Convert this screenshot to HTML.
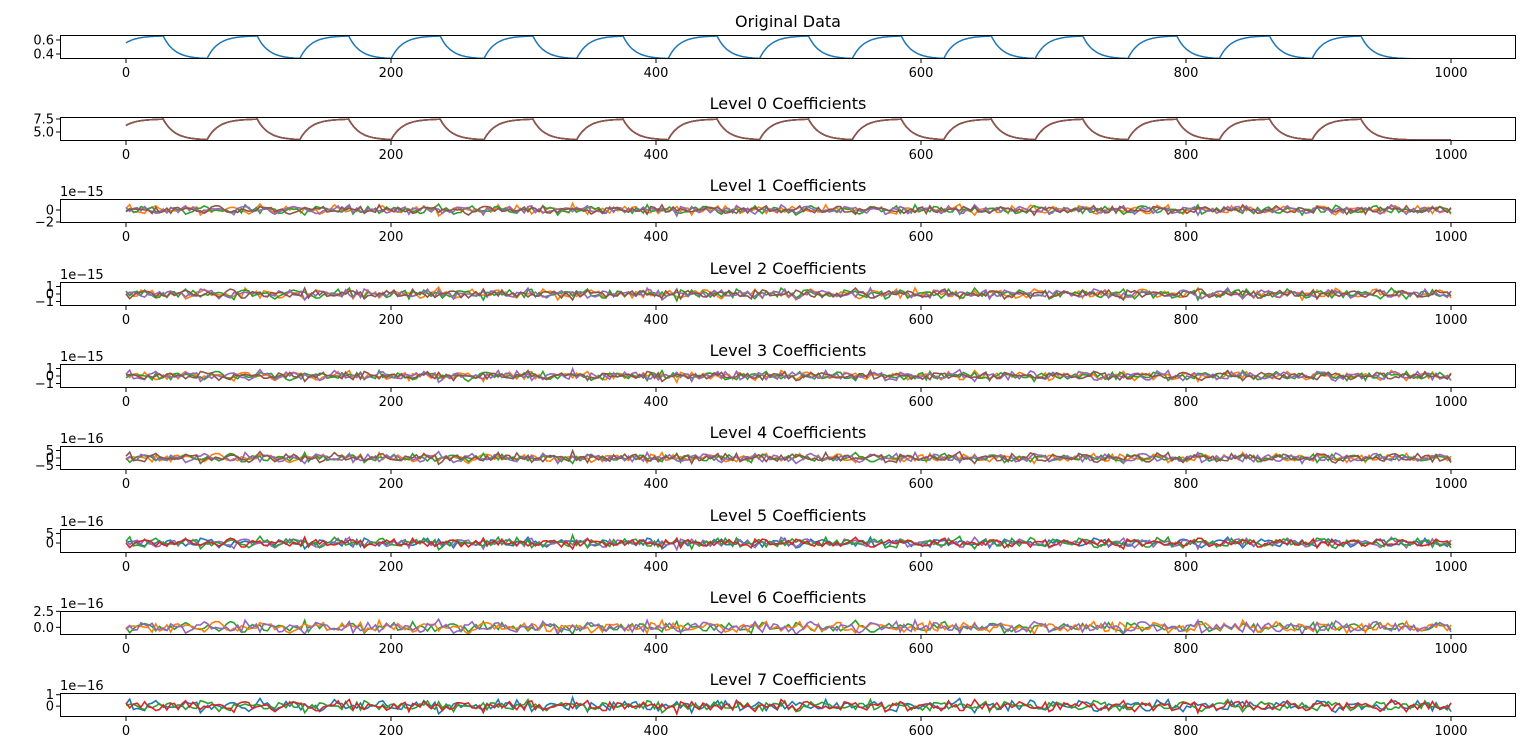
<!DOCTYPE html>
<html><head><meta charset="utf-8"><style>
html,body{margin:0;padding:0;background:#fff;width:1536px;height:754px;overflow:hidden}
svg text{font-family:"DejaVu Sans","Liberation Sans",sans-serif;fill:#000}
</style></head><body>
<svg id="fig" width="1536" height="754" viewBox="0 0 1536 754" xmlns="http://www.w3.org/2000/svg"></svg>
<script>
// ---- data ----
const xTicks = [0, 200, 400, 600, 800, 1000];
const riseStarts = [-10, 61, 131, 200, 270, 340, 409, 478, 548, 617, 686, 756, 825, 895];
const fallStarts = [28, 99, 168, 237, 307, 375, 446, 515, 585, 653, 722, 793, 863, 932];
const origLevels = [0.33, 0.66];
const lvl0Levels = [3.46, 7.5];
const noiseA = [2,-3,5,-1,4,-6,1,3,-2,7,-4,0,2,-5,6,-1,-3,4,-2,1,5,-7,2,0,-3,6,-2,3,-4,1,8,-5,2,-1,3,-3,0,4,-6,2,-2,5,-1,-4,3,1,-2,6,-3,0,2,-5,4,-1,3,-2,7,-6,1,2,-3,4,-1,0,5,-4,2,-2,3,-1,6,-5,1,2,-3,4,0,-2,3,-1,5,-4,2,-3,1,4,-2,0,3,-5];
const noiseB = [-1,4,-2,3,-5,2,0,-3,6,-4,1,2,-6,3,-1,5,-2,-4,3,1,-3,7,-5,2,-1,4,-3,0,5,-6,2,3,-2,1,-4,6,-1,-3,2,4,-5,1,0,3,-2,-6,5,-1,2,-3,4,0,-4,6,-2,1,-5,3,2,-1,-3,5,-4,1,3,-2,0,-5,4,2,-1,-3,6,-2,1,-4,3,0,2,-6,4,-1,3,-2,5,-3,1,-1,2,-4];
const noiseC = [3,-1,-4,2,5,-3,1,-2,4,0,-5,3,2,-4,1,6,-3,-1,2,-5,4,1,-2,3,-6,2,0,4,-3,1,-2,5,-4,3,-1,0,2,-7,4,1,-3,5,-2,-1,6,-4,2,0,-3,3,1,-5,4,-2,2,-1,-4,6,-3,1,4,-2,-5,3,0,2,-3,5,-1,-4,2,3,-6,1,4,-2,0,-3,5,-1,2,-4,3,1,-2,6,-5,2,-1,3];
const noiseD = [-2,1,3,-4,2,-1,5,-3,0,4,-2,-5,3,1,-1,2,-4,6,-2,0,3,-3,1,-6,4,2,-1,-2,5,-3,1,0,-4,3,2,-5,6,-1,-2,3,0,-4,2,5,-3,1,-1,-2,4,-5,3,1,0,-3,5,-2,-1,4,-4,2,1,-6,3,0,-2,5,-3,2,-1,4,-5,1,3,-2,0,6,-4,1,-3,2,4,-1,-5,3,-2,1,5,-3,0,2];
const noiseE = [1,-2,0,3,-3,5,-1,-4,2,1,-2,4,-6,3,0,-1,5,-3,2,-2,1,4,-5,0,3,-1,-3,6,-2,1,2,-4,3,-1,0,5,-6,2,1,-3,4,-1,-2,3,0,-5,4,2,-1,-3,6,-2,1,0,-4,3,2,-1,-5,4,0,-2,3,1,-3,5,-4,1,2,-1,-2,4,-3,0,6,-5,1,2,-2,3,-4,1,0,-1,4,-3,2,-2,1,3];
const noiseF = [0,2,-3,1,4,-2,-1,5,-4,2,0,-3,6,-1,-2,3,-5,1,4,-2,0,-1,3,-4,5,-2,1,-3,2,0,-6,4,1,-2,3,-1,-4,5,0,-3,2,1,-5,3,-1,4,-2,0,-3,6,-4,1,2,-1,-2,5,-3,0,3,-5,2,1,-4,3,-2,0,4,-6,1,2,-1,-3,5,-2,0,3,-4,1,-1,2,-5,4,0,-2,3,-1,1,-3,4,-2];
const panelTitles = ["Original Data","Level 0 Coefficients","Level 1 Coefficients","Level 2 Coefficients","Level 3 Coefficients","Level 4 Coefficients","Level 5 Coefficients","Level 6 Coefficients","Level 7 Coefficients"];
const yRanges = [[0.329,0.671],[3.27,7.88],[-2.17,1.83],[-1.6,1.6],[-1.6,1.6],[-8.0,8.0],[-5.2,7.3],[-1.2,2.55],[-0.95,1.15]];
const yTickVals = [[0.4,0.6],[5.0,7.5],[-2,0],[-1,0,1],[-1,0,1],[-5,0,5],[0,5],[0.0,2.5],[0,1]];
const yTickLabels = [["0.4","0.6"],["5.0","7.5"],["\u22122","0"],["\u22121","0","1"],["\u22121","0","1"],["\u22125","0","5"],["0","5"],["0.0","2.5"],["0","1"]];
const offsetLabels = ["","","1e\u221215","1e\u221215","1e\u221215","1e\u221216","1e\u221216","1e\u221216","1e\u221216"];
const noiseAmp = [0,0,0.14,0.13,0.12,0.6,0.5,0.18,0.095];
const noiseSeries = [null,null,
  [["#ff7f0e",noiseA],["#2ca02c",noiseB],["#9467bd",noiseC],["#8c564b",noiseD]],
  [["#ff7f0e",noiseB],["#2ca02c",noiseC],["#9467bd",noiseE],["#8c564b",noiseF]],
  [["#ff7f0e",noiseC],["#2ca02c",noiseD],["#9467bd",noiseA],["#8c564b",noiseE]],
  [["#ff7f0e",noiseD],["#2ca02c",noiseF],["#9467bd",noiseB],["#8c564b",noiseA]],
  [["#1f77b4",noiseE],["#9467bd",noiseC],["#2ca02c",noiseA],["#d62728",noiseF]],
  [["#2ca02c",noiseF],["#ff7f0e",noiseD],["#9467bd",noiseB]],
  [["#1f77b4",noiseA],["#2ca02c",noiseE],["#d62728",noiseC]]];

// ---- layout ----
const svg = document.getElementById('fig');
const NS = 'http://www.w3.org/2000/svg';
const L = 60, R = 1516, H = 24;
const panelTops = [35,117,199,282,364,446,529,611,693];
const xs = v => 126 + (v - 0) * (1451 - 126) / 1000;
function mk(tag, attrs, parent){const e=document.createElementNS(NS,tag);for(const k in attrs)e.setAttribute(k,attrs[k]);(parent||svg).appendChild(e);return e;}
function shape(t, lv){
  let lastR=-1e9,lastF=-1e9;
  for(const r of riseStarts) if(r<=t) lastR=Math.max(lastR,r);
  for(const f of fallStarts) if(f<=t) lastF=Math.max(lastF,f);
  const lo=lv[0],hi=lv[1],tau=8.5;
  if(lastR>lastF) return hi-(hi-lo)*Math.exp(-(t-lastR)/tau);
  if(lastF>-1e8) return lo+(hi-lo)*Math.exp(-(t-lastF)/tau);
  return lo;
}
panelTitles.forEach((title,i)=>{
  const top=panelTops[i], bot=top+H;
  const g=mk('g',{});  
  const [y0,y1]=yRanges[i];
  const ys=v=>bot-(v-y0)/(y1-y0)*H;
  const clipId='c'+i;
  const cp=mk('clipPath',{id:clipId},g); mk('rect',{x:L,y:top,width:R-L,height:H},cp);
  const plot=mk('g',{'clip-path':'url(#'+clipId+')'},g);
  if(i<2){
    const lv = i===0?origLevels:lvl0Levels;
    const cols = i===0?['#1f77b4']:['#1f77b4','#ff7f0e','#2ca02c','#d62728','#9467bd','#8c564b'];
    cols.forEach((c,k)=>{
      let pts=[];
      for(let t=0;t<=1000;t+=1) pts.push(xs(t).toFixed(1)+','+ys(shape(t,lv)).toFixed(1));
      const p=mk('polyline',{points:pts.join(' '),fill:'none',stroke:c,'stroke-width':1.5},plot);
      
      
    });
  } else {
    noiseSeries[i].forEach(([c,arr],k)=>{
      const n=arr.length;
      let pts=[];
      const step=1000/(n-1);
      for(let j=0;j<n;j++){
        const t=j*step;
        pts.push(xs(t).toFixed(1)+','+ys(arr[j]*noiseAmp[i]).toFixed(1));
        if(j<n-1){
          pts.push(xs(t+step*0.25).toFixed(1)+','+ys(arr[(j+30)%n]*noiseAmp[i]*0.8).toFixed(1));
          pts.push(xs(t+step*0.5).toFixed(1)+','+ys(arr[n-1-j]*noiseAmp[i]*0.6).toFixed(1));
          pts.push(xs(t+step*0.75).toFixed(1)+','+ys(arr[(j+60)%n]*noiseAmp[i]*0.7).toFixed(1));
        }
      }
      const p=mk('polyline',{points:pts.join(' '),fill:'none',stroke:c,'stroke-width':1.6},plot);
      
      
    });
  }
  mk('rect',{x:L+0.5,y:top+0.5,width:R-L-1,height:H-1,fill:'none',stroke:'#000','stroke-width':1},g);
  const tt=mk('text',{x:(L+R)/2,y:top-8,'text-anchor':'middle','font-size':16},g); tt.textContent=title;
  
  
  xTicks.forEach(v=>{
    mk('line',{x1:xs(v),x2:xs(v),y1:bot,y2:bot+4,stroke:'#000'},g);
    const t=mk('text',{x:xs(v),y:bot+18,'text-anchor':'middle','font-size':13},g); t.textContent=v;
    
    
  });
  yTickVals[i].forEach((v,k)=>{
    mk('line',{x1:L-4,x2:L,y1:ys(v),y2:ys(v),stroke:'#000'},g);
    const t=mk('text',{x:L-6,y:ys(v)+4.5,'text-anchor':'end','font-size':13},g); t.textContent=yTickLabels[i][k];
    
    
  });
  if(offsetLabels[i]){
    const o=mk('text',{x:L,y:top-3,'font-size':13},g); o.textContent=offsetLabels[i];
    
    
  }
});
</script>
</body></html>
